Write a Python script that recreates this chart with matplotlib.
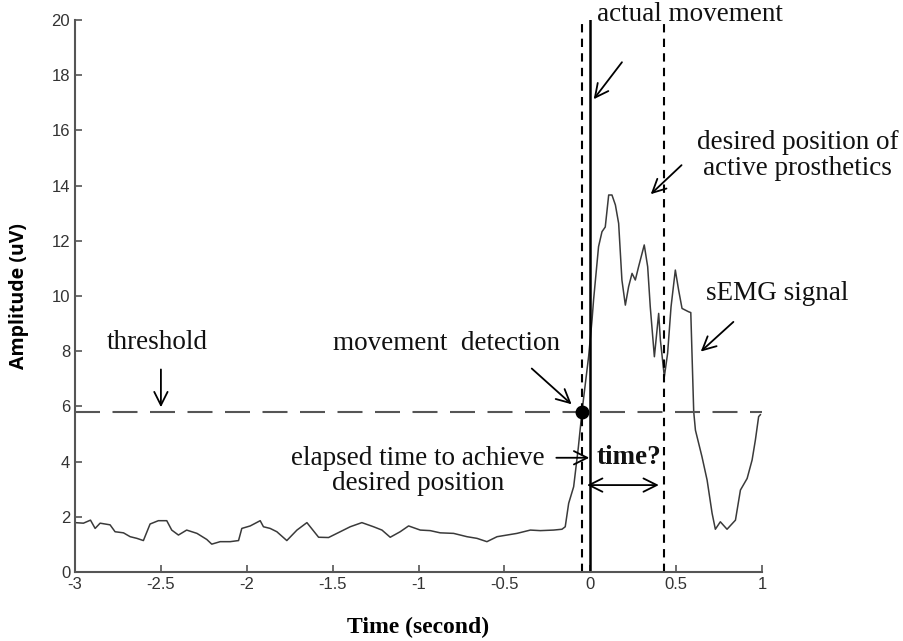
import numpy as np
import matplotlib
matplotlib.use("Agg")
import matplotlib.pyplot as plt

# sEMG trace
t = [-3.0, -2.951, -2.91, -2.883, -2.854, -2.796, -2.767, -2.718, -2.679, -2.64,
     -2.602, -2.563, -2.515, -2.466, -2.437, -2.398, -2.35, -2.29, -2.233, -2.204,
     -2.155, -2.097, -2.048, -2.029, -1.98, -1.922, -1.903, -1.864, -1.825, -1.767,
     -1.708, -1.65, -1.582, -1.524, -1.456, -1.398, -1.33, -1.262, -1.213, -1.165,
     -1.107, -1.058, -0.99, -0.932, -0.874, -0.796, -0.718, -0.66, -0.602, -0.543,
     -0.485, -0.427, -0.349, -0.291, -0.214, -0.165, -0.146, -0.126, -0.097, -0.07,
     -0.048, -0.01, 0.01, 0.019, 0.048, 0.068, 0.087, 0.107, 0.126, 0.146,
     0.165, 0.184, 0.204, 0.223, 0.243, 0.262, 0.281, 0.314, 0.334, 0.349,
     0.373, 0.398, 0.408, 0.431, 0.45, 0.47, 0.495, 0.514, 0.534, 0.572,
     0.585, 0.602, 0.612, 0.65, 0.68, 0.709, 0.728, 0.757, 0.796, 0.845,
     0.874, 0.913, 0.942, 0.961, 0.98, 0.99]
amp = [1.79, 1.77, 1.88, 1.58, 1.77, 1.71, 1.46, 1.42, 1.28, 1.22,
       1.14, 1.74, 1.86, 1.86, 1.52, 1.34, 1.52, 1.40, 1.18, 1.01,
       1.10, 1.10, 1.14, 1.58, 1.67, 1.86, 1.64, 1.58, 1.46, 1.14,
       1.52, 1.79, 1.26, 1.25, 1.46, 1.64, 1.79, 1.64, 1.52, 1.26,
       1.46, 1.67, 1.52, 1.50, 1.42, 1.40, 1.28, 1.22, 1.10, 1.28,
       1.34, 1.40, 1.52, 1.50, 1.52, 1.55, 1.64, 2.49, 3.09, 4.5,
       5.84, 7.8, 9.13, 9.86, 11.79, 12.33, 12.5, 13.66, 13.66, 13.3,
       12.63, 10.58, 9.67, 10.34, 10.82, 10.58, 11.06, 11.85, 11.06, 9.61,
       7.8, 9.37, 8.4, 7.08, 7.92, 9.61, 10.94, 10.22, 9.55, 9.43,
       9.4, 5.81, 5.14, 4.18, 3.33, 2.13, 1.55, 1.82, 1.55, 1.88,
       2.97, 3.39, 4.06, 4.78, 5.63, 5.7]

threshold = 5.8
detect_t = -0.048
move_t = 0.0
desired_t = 0.427

serif = "Liberation Serif"
sans = "Liberation Sans"

fig = plt.figure(figsize=(9.04, 6.41), dpi=100)
ax = fig.add_axes([0.083, 0.1076, 0.76, 0.8612])

ax.plot(t, amp, color="#3a3a3a", lw=1.1)
ax.plot([-3, 1], [threshold, threshold], color="#555555", lw=1.5, dashes=(12, 6))
ax.axvline(detect_t, color="black", lw=1.5, dashes=(4, 3))
ax.axvline(desired_t, color="black", lw=1.5, dashes=(4, 3))
ax.axvline(move_t, color="black", lw=1.8)
ax.plot([detect_t], [threshold], "o", color="black", ms=9)

ax.set_xlim(-3, 1)
ax.set_ylim(0, 20)
ax.set_xticks([-3, -2.5, -2, -1.5, -1, -0.5, 0, 0.5, 1])
ax.set_xticklabels(["-3", "-2.5", "-2", "-1.5", "-1", "-0.5", "0", "0.5", "1"])
ax.set_yticks(range(0, 21, 2))
for s in ["top", "right"]:
    ax.spines[s].set_visible(False)
for s in ["left", "bottom"]:
    ax.spines[s].set_color("#555555")
    ax.spines[s].set_linewidth(1.5)
ax.tick_params(direction="in", length=5, width=1.2, color="#555555",
               labelcolor="#333333", labelsize=12)
for lab in ax.get_xticklabels() + ax.get_yticklabels():
    lab.set_fontfamily(sans)

ax.set_xlabel("Time (second)", fontfamily=serif, fontweight="bold", fontsize=17,
              labelpad=18)
ax.set_ylabel("Amplitude (uV)", fontfamily="Open Sans", fontweight="bold",
              fontsize=14, labelpad=16)

tk = dict(fontfamily=serif, fontsize=19.5, color="#111111", clip_on=False)
arr = dict(arrowstyle="->", color="black", lw=1.3, mutation_scale=24)

ax.text(0.58, 20.2, "actual movement", ha="center", va="center", **tk)
ax.annotate("", xy=(0.01, 17.05), xytext=(0.194, 18.55), arrowprops=arr)

ax.text(1.206, 15.1, "desired position of\nactive prosthetics", ha="center",
        va="center", linespacing=1.05, **tk)
ax.annotate("", xy=(0.34, 13.62), xytext=(0.543, 14.81), arrowprops=arr)

ax.text(1.089, 10.1, "sEMG signal", ha="center", va="center", **tk)
ax.annotate("", xy=(0.631, 7.92), xytext=(0.845, 9.13), arrowprops=arr)

ax.text(-2.522, 8.3, "threshold", ha="center", va="center", **tk)
ax.annotate("", xy=(-2.5, 5.87), xytext=(-2.5, 7.44), arrowprops=arr)

ax.text(-0.835, 8.29, "movement  detection", ha="center", va="center", **tk)
ax.annotate("", xy=(-0.097, 6.01), xytext=(-0.353, 7.44), arrowprops=arr)

ax.text(-1.005, 3.66, "elapsed time to achieve\ndesired position", ha="center",
        va="center", linespacing=1.05, **tk)
ax.annotate("", xy=(0.01, 4.14), xytext=(-0.214, 4.14), arrowprops=arr)
ax.text(0.039, 4.16, "time?", ha="left", va="center", fontweight="bold", **tk)
ax.annotate("", xy=(0.415, 3.15), xytext=(-0.035, 3.15),
            arrowprops=dict(arrowstyle="<->", color="black", lw=1.3,
                            mutation_scale=24))

fig.savefig("out.png", dpi=100)
